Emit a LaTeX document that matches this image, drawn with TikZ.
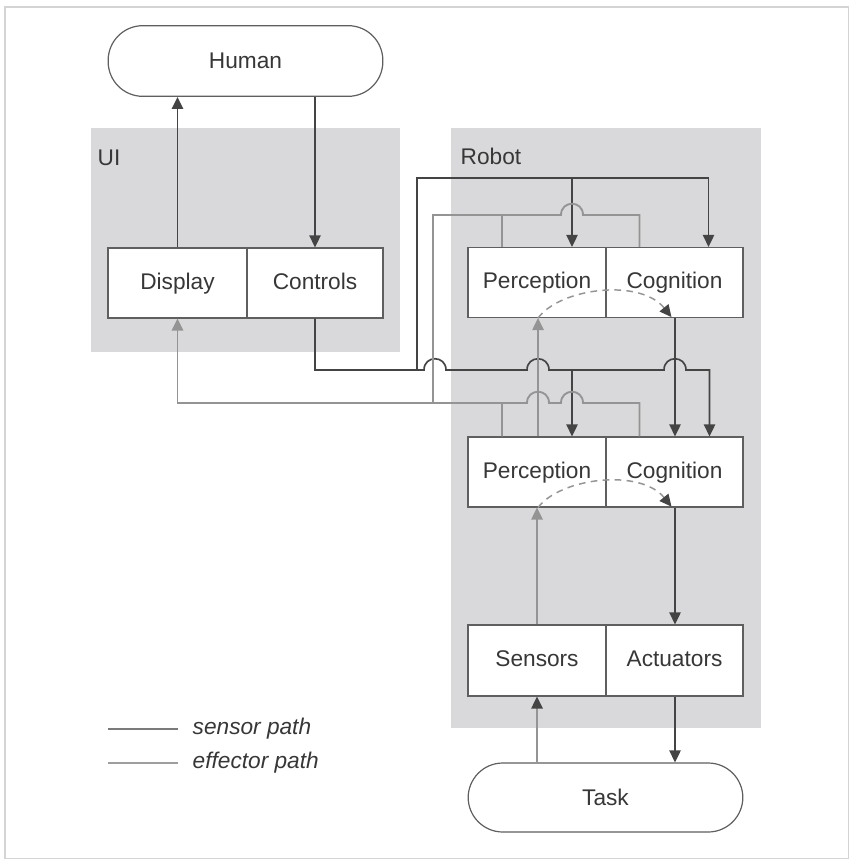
\documentclass[tikz,border=0pt]{standalone}
\usepackage{fontspec}
\setmainfont{Liberation Sans}
\usetikzlibrary{arrows.meta,calc}
\definecolor{panelc}{RGB}{217,217,219}
\definecolor{effc}{RGB}{68,68,68}
\definecolor{senc}{RGB}{148,148,148}
\definecolor{framec}{RGB}{212,212,212}
\definecolor{boxc}{RGB}{95,95,95}
\definecolor{txtc}{RGB}{55,55,55}
\begin{document}
\begin{tikzpicture}[x=0.75pt,y=-0.75pt,
  lbl/.style={font=\fontsize{17}{20}\selectfont, text=txtc},
  half/.style={lbl, draw=boxc, fill=white, line width=0.9pt, minimum height=52.5pt, inner sep=0pt, text height=12.5pt, text depth=3.5pt},
  pill/.style={lbl, draw=boxc, fill=white, line width=0.9pt, rounded corners=26pt, minimum width=206pt, minimum height=53pt, inner sep=0pt},
  effl/.style={draw=effc, line width=1.25pt},
  effa/.style={effl, -{Triangle[length=9pt,width=8.5pt]}},
  senl/.style={draw=senc, line width=1.4pt},
  sena/.style={senl, -{Triangle[length=9pt,width=8.5pt]}},
  dashl/.style={draw=senc, line width=1.1pt, dash pattern=on 5pt off 4pt, -{Triangle[length=9pt,width=8.5pt,color=effc,fill=effc]}},
  leg/.style={lbl, font=\fontsize{17}{20}\selectfont\itshape, anchor=west}
]
\useasboundingbox (0,0) rectangle (849,859);
\draw[framec, line width=1pt] (5,7) rectangle (848.5,858.5);

% panels
\fill[panelc] (91,128) rectangle (400,352);
\fill[panelc] (451,128) rectangle (761,728);
\node[lbl, anchor=west] (uil) at (93,158) {UI};
\node[lbl, anchor=west] (robl) at (456,156) {Robot};

% nodes
\node[pill] (hum) at (245.5,61) {Human};
\node[half, minimum width=104.25pt] (dsp) at (177.5,283) {Display};
\node[half, minimum width=102pt] (ctl) at (315,283) {Controls};

\node[half, minimum width=103.5pt] (per1) at (537,282.5) {Perception};
\node[half, minimum width=102.75pt] (cog1) at (674.5,282.5) {Cognition};
\node[half, minimum width=103.5pt] (per2) at (537,472) {Perception};
\node[half, minimum width=102.75pt] (cog2) at (674.5,472) {Cognition};
\node[half, minimum width=103.5pt, minimum height=53.25pt] (sns) at (537,660.5) {Sensors};
\node[half, minimum width=102.75pt, minimum height=53.25pt] (act) at (674.5,660.5) {Actuators};
\node[pill, minimum height=51.75pt] (task) at (605.5,797.5) {Task};

% human <-> UI
\draw[effa] (dsp.north) -- (dsp.north |- hum.south);
\draw[effa] (hum.south -| ctl.north) -- (ctl.north);

% controls output
\draw[effa] (ctl.south) -- (315,370) -- (424,370)
  .. controls (424,355) and (446,355) .. (446,370) -- (527,370)
  .. controls (527,355) and (549,355) .. (549,370) -- (664,370)
  .. controls (664,355) and (686,355) .. (686,370) -- (709.5,370)
  -- ($(cog2.north)+(35,0)$);
\coordinate (ja) at (417,370);
\coordinate (jb) at (572,370);
\draw[effa] (jb) -- ($(per2.north)+(35,0)$);
\draw[effa] (ja) -- (417,178) -- (708.5,178) -- ($(cog1.north)+(34,0)$);
\coordinate (jc) at (572,178);
\draw[effa] (jc) -- ($(per1.north)+(35,0)$);

% cognition -> cognition -> actuators -> task
\coordinate (c1s) at ($(cog1.south)+(0.5,0)$);
\coordinate (c2s) at ($(cog2.south)+(0.5,0)$);
\coordinate (acs) at ($(act.south)+(0.5,0)$);
\draw[effa] (c1s) -- (c1s |- cog2.north);
\draw[effa] (c2s) -- (c2s |- act.north);
\draw[effa] (acs) -- (acs |- task.north);

% sensor path
\draw[senl, -{Triangle[length=9pt,width=8.5pt,color=effc,fill=effc]}] (task.north -| sns.south) -- (sns.south);
\draw[sena] (sns.north) -- (per2.south);
\coordinate (p2n) at ($(per2.north)+(1,0)$);
\draw[sena] (p2n) -- (p2n |- per1.south);

% upper outputs to display
\draw[senl] ($(per1.north)+(-35,0)$) -- (502,215) -- (561,215)
  .. controls (561,200) and (583,200) .. (583,215) -- (639.5,215)
  -- ($(cog1.north)+(-35,0)$);
\draw[senl] (502,215) -- (433,215) -- (433,403);
% lower outputs
\draw[senl] ($(cog2.north)+(-35,0)$) -- (639.5,403) -- (583,403)
  .. controls (583,388) and (561,388) .. (561,403) -- (549,403)
  .. controls (549,388) and (527,388) .. (527,403) -- (502,403)
  -- ($(per2.north)+(-35,0)$);
\coordinate (jd) at (502,403);
\draw[sena] (jd) -| (dsp.south);

% dashed internal flows
\draw[dashl] ($(per1.south)+(1,0)$) .. controls (560,288) and (640,278) .. ($(cog1.south)+(-3,-1)$);
\draw[dashl] ($(per2.south)+(1,0)$) .. controls (560,478) and (640,468) .. ($(cog2.south)+(-3,-1)$);

% legend
\coordinate (l1a) at (108,729);
\coordinate (l1b) at (178,729);
\coordinate (l2a) at (108,763);
\coordinate (l2b) at (178,763);
\draw[draw=black!52, line width=1.4pt] (l1a) -- (l1b);
\draw[draw=black!38, line width=1.8pt] (l2a) -- (l2b);
\node[leg] (t1) at (188,729) {sensor path};
\node[leg] (t2) at (188,763) {effector path};
\end{tikzpicture}
\end{document}
